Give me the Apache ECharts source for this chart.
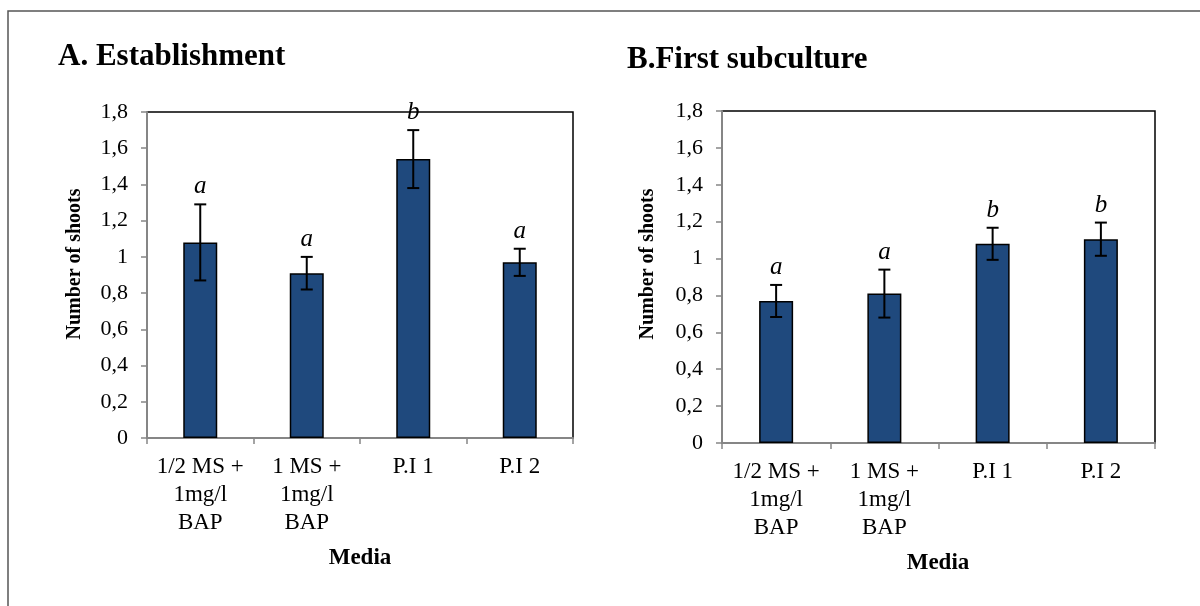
<!DOCTYPE html>
<html><head><meta charset="utf-8">
<script src="https://cdn.jsdelivr.net/npm/echarts@6/dist/echarts.min.js"></script>
<style>html,body{margin:0;padding:0;background:#fff}#c{width:1200px;height:606px}</style>
</head><body><div id="c"></div>
<script>
// ---- data ----
const categories = ['1/2 MS +\n1mg/l\nBAP', '1 MS +\n1mg/l\nBAP', 'P.I 1', 'P.I 2'];
const estMeans = [1.08, 0.91, 1.54, 0.97];
const estErrors = [0.21, 0.09, 0.16, 0.075];
const estLetters = ['a', 'a', 'b', 'a'];
const subMeans = [0.77, 0.81, 1.08, 1.105];
const subErrors = [0.087, 0.13, 0.087, 0.09];
const subLetters = ['a', 'a', 'b', 'b'];
const titles = ['A. Establishment', 'B.First subculture'];
const yName = 'Number of shoots';
const xName = 'Media';
const yMin = 0, yMax = 1.8, yStep = 0.2;

// ---- styling ----
const FONT = '"Liberation Serif","Times New Roman",serif';
const BAR = '#1F497D';
const GRAY = '#868686';

function fmt(v) { return String(Math.round(v * 10) / 10).replace('.', ','); }

function errRender(letters) {
  return function (params, api) {
    const i = api.value(0), m = api.value(1), e = api.value(2);
    const t = api.coord([i, m + e]);
    const b = api.coord([i, m - e]);
    const cap = 6;
    const ls = { stroke: '#000', lineWidth: 2 };
    return {
      type: 'group', children: [
        { type: 'line', shape: { x1: t[0], y1: t[1], x2: b[0], y2: b[1] }, style: ls },
        { type: 'line', shape: { x1: t[0] - cap, y1: t[1], x2: t[0] + cap, y2: t[1] }, style: ls },
        { type: 'line', shape: { x1: b[0] - cap, y1: b[1], x2: b[0] + cap, y2: b[1] }, style: ls },
        { type: 'text', style: { text: letters[i], x: t[0], y: t[1] - 5, align: 'center', verticalAlign: 'bottom',
          fontFamily: FONT, fontStyle: 'italic', fontSize: 25, fill: '#000' } }
      ]
    };
  };
}

function xAxisCfg(gi) {
  return {
    type: 'category', gridIndex: gi, data: categories,
    axisLine: { show: true, lineStyle: { color: GRAY, width: 2 } },
    axisTick: { show: true, length: 6, lineStyle: { color: GRAY, width: 1.5 } },
    axisLabel: { interval: 0, color: '#000', fontFamily: FONT, fontSize: 23, lineHeight: 28, margin: 15 }
  };
}
function yAxisCfg(gi) {
  return {
    type: 'value', gridIndex: gi, min: yMin, max: yMax, interval: yStep,
    axisLine: { show: true, lineStyle: { color: GRAY, width: 2 } },
    axisTick: { show: true, length: 6, lineStyle: { color: GRAY, width: 1.5 } },
    splitLine: { show: false },
    axisLabel: { color: '#000', fontFamily: FONT, fontSize: 22, margin: 19, formatter: fmt }
  };
}
function barSeries(gi, vals) {
  return {
    type: 'bar', xAxisIndex: gi, yAxisIndex: gi, data: vals, barWidth: 34,
    itemStyle: { color: BAR, borderColor: '#000', borderWidth: 1.5 }, animation: false
  };
}
function errSeries(gi, means, errs, letters) {
  return {
    type: 'custom', xAxisIndex: gi, yAxisIndex: gi, z: 5,
    data: means.map((m, i) => [i, m, errs[i]]),
    renderItem: errRender(letters), animation: false
  };
}

const chart = echarts.init(document.getElementById('c'), null, { renderer: 'canvas' });
chart.setOption({
  backgroundColor: '#fff',
  animation: false,
  grid: [
    { left: 147, top: 112, width: 426, height: 326, show: true, borderColor: '#000', borderWidth: 1.5 },
    { left: 722, top: 111, width: 433, height: 332, show: true, borderColor: '#000', borderWidth: 1.5 }
  ],
  xAxis: [xAxisCfg(0), xAxisCfg(1)],
  yAxis: [yAxisCfg(0), yAxisCfg(1)],
  series: [
    barSeries(0, estMeans), errSeries(0, estMeans, estErrors, estLetters),
    barSeries(1, subMeans), errSeries(1, subMeans, subErrors, subLetters)
  ],
  graphic: [
    { type: 'rect', shape: { x: 8, y: 11, width: 1400, height: 800 }, style: { fill: 'none', stroke: '#555', lineWidth: 1.5 }, silent: true, z: -1 },
    { type: 'text', x: 58, y: 57, style: { text: titles[0], x: 0, y: 0, verticalAlign: 'middle', fontFamily: FONT, fontWeight: 'bold', fontSize: 31, fill: '#000' } },
    { type: 'text', x: 627, y: 60, style: { text: titles[1], x: 0, y: 0, verticalAlign: 'middle', fontFamily: FONT, fontWeight: 'bold', fontSize: 31, fill: '#000' } },
    { type: 'text', x: 75, y: 264, rotation: Math.PI / 2, style: { text: yName, x: 0, y: 0, align: 'center', verticalAlign: 'middle', fontFamily: FONT, fontWeight: 'bold', fontSize: 20, fill: '#000' } },
    { type: 'text', x: 648, y: 264, rotation: Math.PI / 2, style: { text: yName, x: 0, y: 0, align: 'center', verticalAlign: 'middle', fontFamily: FONT, fontWeight: 'bold', fontSize: 20, fill: '#000' } },
    { type: 'text', x: 360, y: 558, style: { text: xName, x: 0, y: 0, align: 'center', verticalAlign: 'middle', fontFamily: FONT, fontWeight: 'bold', fontSize: 23, fill: '#000' } },
    { type: 'text', x: 938, y: 563, style: { text: xName, x: 0, y: 0, align: 'center', verticalAlign: 'middle', fontFamily: FONT, fontWeight: 'bold', fontSize: 23, fill: '#000' } }
  ]
});
</script></body></html>
